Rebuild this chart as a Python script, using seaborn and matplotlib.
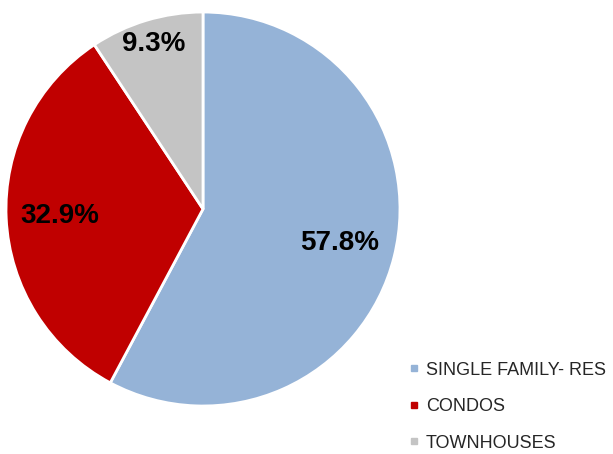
import numpy as np
import matplotlib
matplotlib.use("Agg")
import matplotlib.pyplot as plt
from matplotlib.lines import Line2D
import seaborn as sns

categories = ["SINGLE FAMILY- RES", "CONDOS", "TOWNHOUSES"]
values = [57.8, 32.9, 9.3]
colors = ["#95B3D7", "#C00000", "#C4C4C4"]

sns.set_style("white")
plt.rcParams["font.family"] = ["Liberation Sans", "DejaVu Sans"]

fig = plt.figure(figsize=(6.13, 4.54), dpi=100)
ax = fig.add_axes([0.0098, 0.1057, 0.6427, 0.8678])
wedges, _ = ax.pie(values, colors=colors, startangle=90, counterclock=False,
                   wedgeprops=dict(edgecolor="white", linewidth=2))
ax.set_xlim(-1, 1)
ax.set_ylim(-1, 1)
ax.set_aspect("equal")

dists = [0.716, 0.727, 0.876]
for w, v, d in zip(wedges, values, dists):
    mid = np.deg2rad((w.theta1 + w.theta2) / 2)
    ax.text(d * np.cos(mid), d * np.sin(mid), f"{v}%", ha="center", va="center",
            fontsize=20, fontweight="bold", color="black")

handles = [Line2D([0], [0], marker="s", linestyle="", markersize=5,
                  markerfacecolor=c, markeredgecolor=c) for c in colors]
fig.legend(handles, categories, loc="lower left", bbox_to_anchor=(0.643, -0.027),
           frameon=False, fontsize=13, handlelength=0.6, handletextpad=0.35,
           labelspacing=1.08, borderpad=0.3)

fig.savefig("out.png", dpi=100, facecolor="white")
